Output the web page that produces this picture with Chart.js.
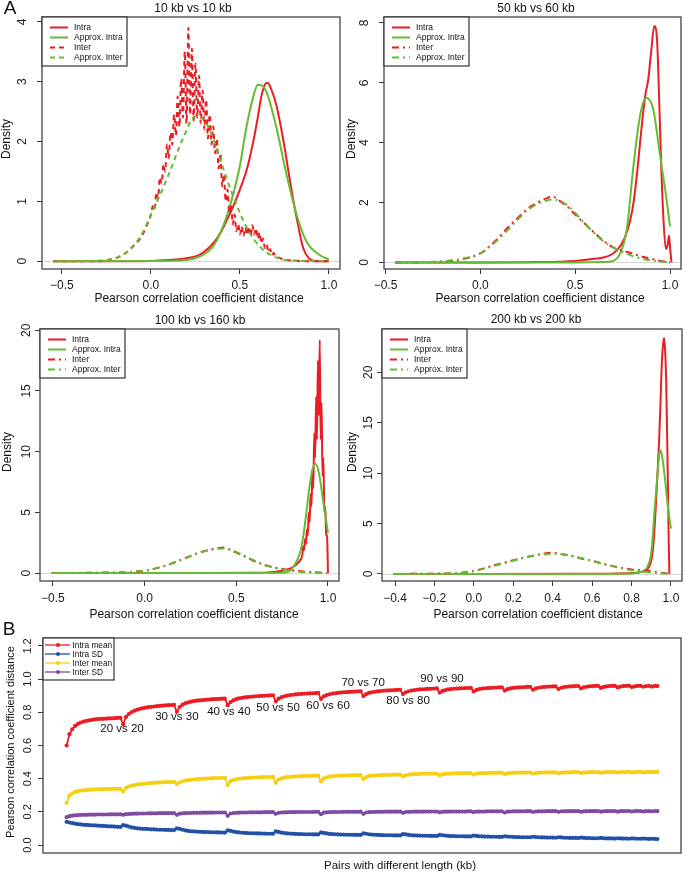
<!DOCTYPE html>
<html>
<head>
<meta charset="utf-8">
<script src="https://cdn.jsdelivr.net/npm/chart.js@4.4.1/dist/chart.umd.min.js"></script>
<style>
  html, body { margin: 0; padding: 0; background: #fff; }
  #page { position: relative; width: 685px; height: 873px; overflow: hidden; background: #fff; }
  #page canvas { position: absolute; }
</style>
</head>
<body>
<div id="page">
  <canvas id="p10" width="342" height="305" style="left:0px;top:0px"></canvas>
  <canvas id="p50" width="342" height="305" style="left:343px;top:0px"></canvas>
  <canvas id="p100" width="342" height="318" style="left:0px;top:305px"></canvas>
  <canvas id="p200" width="342" height="318" style="left:343px;top:305px"></canvas>
  <canvas id="pB" width="685" height="255" style="left:0px;top:618px"></canvas>
</div>
<script>
// ---- Panel A: 10 kb vs 10 kb ----
const a10_intraX = [-0.55,-0.3,0,0.1,0.2,0.275,0.35,0.39,0.425,0.46,0.5,0.54,0.575,0.6,0.62,0.64,0.655,0.675,0.705,0.745,0.78,0.82,0.855,0.89,0.93,1.0];
const a10_intraY = [0,0,0.005,0.02,0.05,0.11,0.3,0.47,0.68,0.9,1.2,1.55,2.0,2.4,2.75,2.95,2.98,2.88,2.6,2.0,1.36,0.7,0.22,0.04,0,0];
const a10_approxIntraX = [-0.55,0,0.2,0.275,0.35,0.42,0.46,0.5,0.537,0.575,0.6,0.625,0.65,0.705,0.76,0.82,0.875,0.95,1.0];
const a10_approxIntraY = [0,0.003,0.02,0.08,0.25,0.7,1.1,1.6,2.25,2.75,2.95,2.93,2.82,2.23,1.47,0.76,0.32,0.1,0.03];
const a10_interX = [-0.55,-0.3,-0.25,-0.2,-0.15,-0.1,-0.06,-0.03,
  0,0.01,0.02,0.03,0.04,0.05,0.06,0.07,0.08,0.09,0.1,0.11,0.12,0.13,0.14,0.15,0.16,0.17,0.18,0.19,
  0.2,0.21,0.22,0.23,0.24,0.25,0.26,0.27,0.28,0.29,0.3,0.31,0.32,0.33,0.34,0.35,0.36,0.37,0.38,0.39,
  0.4,0.41,0.42,0.43,0.44,0.45,0.46,0.47,0.48,0.49,0.5,0.51,0.52,0.53,0.54,0.55,0.56,0.57,0.58,0.59,
  0.6,0.61,0.62,0.63,0.64,0.65,0.66,0.67,0.68,0.69,0.7,0.72,0.74,0.76,0.8,0.85,1.0];
const a10_interY = [0,0,0.02,0.05,0.12,0.25,0.38,0.55,
  0.78,0.92,0.86,1.15,1.05,1.4,1.3,1.62,1.5,1.95,1.72,2.15,1.95,2.45,2.1,2.75,2.25,3.05,2.4,3.5,
  2.3,3.9,2.45,3.55,2.35,3.3,2.4,3.1,2.3,2.85,2.2,2.7,2.05,2.45,1.95,2.25,1.8,2.05,1.55,1.8,
  1.25,1.45,1.0,1.2,0.8,0.95,0.62,0.78,0.5,0.62,0.45,0.58,0.42,0.56,0.44,0.58,0.42,0.6,0.45,0.55,
  0.38,0.48,0.3,0.38,0.22,0.28,0.15,0.2,0.1,0.14,0.07,0.06,0.03,0.02,0.01,0,0];
const a10_approxInterX = [-0.55,-0.3,-0.19,-0.1,-0.05,0,0.05,0.1,0.18,0.25,0.3,0.35,0.4,0.46,0.54,0.61,0.69,0.8,1.0];
const a10_approxInterY = [0,0.01,0.06,0.25,0.46,0.78,1.1,1.45,2.05,2.42,2.35,2.05,1.6,1.1,0.55,0.25,0.08,0.01,0];

// ---- Panel A: 50 kb vs 60 kb ----
const a50_intraX = [-0.45,0,0.3,0.5,0.6,0.67,0.72,0.76,0.79,0.81,0.83,0.85,0.87,0.885,0.9,0.917,0.932,0.945,0.955,0.965,0.978,0.988,0.995,1.0,1.008];
const a50_intraY = [0,0,0.01,0.05,0.12,0.2,0.4,0.8,1.4,2.1,3.2,4.5,5.6,6.1,7.0,7.9,7.4,5.0,3.0,1.5,0.45,0.6,0.9,0.5,0];
const a50_approxIntraX = [-0.45,0,0.5,0.65,0.7,0.737,0.772,0.807,0.842,0.874,0.912,0.947,0.982,1.0];
const a50_approxIntraY = [0,0,0,0.01,0.05,0.3,1.1,3.2,4.9,5.5,5.1,3.6,2.1,1.2];
const a50_interX = [-0.45,-0.3,-0.2,-0.1,0,0.05,0.1,0.15,0.2,0.25,0.3,0.35,0.38,0.42,0.46,0.5,0.55,0.6,0.65,0.7,0.75,0.8,0.85,0.9,0.95,1.0];
const a50_interY = [0,0.01,0.03,0.1,0.3,0.55,0.85,1.2,1.5,1.8,2.0,2.15,2.2,2.05,1.85,1.6,1.3,1.0,0.72,0.5,0.4,0.3,0.2,0.12,0.05,0];
const a50_approxInterY = [0,0.01,0.04,0.12,0.3,0.52,0.8,1.12,1.45,1.75,1.95,2.07,2.1,2.06,1.9,1.65,1.3,0.98,0.7,0.5,0.35,0.22,0.13,0.07,0.03,0.01];

// ---- Panel A: 100 kb vs 160 kb ----
const a100_intraX = [-0.51,0.3,0.6,0.7,0.78,0.82,0.845,
  0.86,0.865,0.87,0.875,0.88,0.885,0.89,0.895,0.9,0.905,0.91,0.915,0.92,0.925,0.93,0.935,0.94,0.945,
  0.95,0.955,0.96,0.965,0.97,0.975,0.98,0.985,0.99,0.995,1.0];
const a100_intraY = [0,0,0.02,0.1,0.3,0.6,1.0,
  1.5,2.2,1.9,2.8,2.4,3.6,3.1,5.0,4.2,6.5,5.5,8.5,7.0,11.5,9.5,14.5,11.0,17.5,
  13.0,19.2,11.0,14.0,8.0,9.5,5.0,5.5,3.2,3.0,0];
const a100_approxIntraX = [-0.51,0,0.6,0.75,0.79,0.811,0.83,0.848,0.866,0.884,0.9,0.915,0.93,0.945,0.957,0.97,0.985,1.0];
const a100_approxIntraY = [0,0,0,0.02,0.15,0.5,1.0,1.7,3.1,5.2,7.2,8.5,9.0,8.6,7.7,6.3,4.8,3.3];
const a100_interX = [-0.51,-0.3,-0.15,-0.05,0,0.05,0.1,0.15,0.2,0.25,0.3,0.35,0.4,0.43,0.47,0.52,0.57,0.62,0.67,0.72,0.77,0.82,0.87,0.92,0.97,1.0];
const a100_interY = [0,0.03,0.06,0.12,0.2,0.35,0.55,0.8,1.1,1.4,1.7,1.9,2.05,2.1,1.9,1.55,1.2,0.85,0.6,0.42,0.3,0.2,0.12,0.07,0.03,0];
const a100_approxInterY = [0,0.02,0.05,0.12,0.2,0.35,0.55,0.82,1.1,1.4,1.68,1.88,2.0,2.02,1.92,1.6,1.22,0.88,0.6,0.4,0.25,0.15,0.08,0.04,0.01,0];

// ---- Panel A: 200 kb vs 200 kb ----
const a200_intraX = [-0.41,0,0.5,0.8,0.86,0.88,0.895,0.906,0.915,0.923,0.932,0.94,0.947,0.953,0.96,0.965,0.97,0.976,0.98,0.984,0.988,0.992];
const a200_intraY = [0,0,0.01,0.1,0.25,0.45,1.0,2.0,4.0,6.7,10.0,13.3,17.0,20.6,22.8,23.4,22.3,18.9,14.5,9.5,4.0,0];
const a200_approxIntraX = [-0.41,0,0.6,0.8,0.85,0.872,0.885,0.897,0.906,0.914,0.922,0.93,0.937,0.944,0.952,0.96,0.968,0.975,0.982,0.99,1.0];
const a200_approxIntraY = [0,0,0,0.05,0.2,0.45,0.9,1.7,3.3,5.6,7.6,9.5,11.2,12.3,12.0,11.0,9.7,8.5,7.1,5.8,4.5];
const a200_interX = [-0.41,-0.2,-0.1,-0.05,0,0.05,0.1,0.15,0.2,0.25,0.3,0.35,0.4,0.45,0.5,0.55,0.6,0.65,0.7,0.75,0.8,0.85,0.9,0.95,1.0];
const a200_interY = [0,0.03,0.08,0.15,0.3,0.55,0.85,1.1,1.35,1.6,1.8,2.0,2.1,1.95,1.75,1.5,1.3,1.05,0.8,0.6,0.45,0.35,0.25,0.12,0];
const a200_approxInterY = [0,0.03,0.08,0.15,0.28,0.5,0.78,1.05,1.32,1.58,1.8,1.95,2.0,1.95,1.78,1.55,1.3,1.03,0.78,0.55,0.38,0.25,0.15,0.07,0.03];

// ---- Panel B: one segment per first length (10, 20, ... 200) ----
const pairLengths = [10,20,30,40,50,60,70,80,90,100,110,120,130,140,150,160,170,180,190,200];
const intraMeanSegs = [
  [0.600,0.668,0.698,0.718,0.730,0.738,0.744,0.748,0.752,0.755,0.757,0.759,0.760,0.761,0.762,0.763,0.764,0.765,0.766,0.766],
  [0.728,0.772,0.790,0.802,0.810,0.816,0.821,0.825,0.828,0.831,0.833,0.835,0.837,0.839,0.840,0.842,0.843,0.844,0.845],
  [0.803,0.832,0.846,0.854,0.860,0.864,0.867,0.870,0.872,0.874,0.875,0.877,0.878,0.879,0.880,0.881,0.882,0.883],
  [0.843,0.862,0.872,0.879,0.884,0.887,0.890,0.892,0.894,0.895,0.897,0.898,0.899,0.900,0.901,0.902,0.903],
  [0.866,0.882,0.891,0.897,0.901,0.904,0.906,0.908,0.910,0.911,0.912,0.913,0.914,0.915,0.916,0.917],
  [0.881,0.896,0.904,0.909,0.913,0.915,0.917,0.919,0.921,0.922,0.923,0.924,0.925,0.926,0.927],
  [0.898,0.910,0.917,0.921,0.924,0.926,0.928,0.930,0.931,0.932,0.933,0.934,0.935,0.936],
  [0.910,0.921,0.927,0.931,0.934,0.936,0.938,0.939,0.940,0.941,0.942,0.943,0.944],
  [0.919,0.929,0.934,0.938,0.940,0.942,0.943,0.944,0.945,0.946,0.946,0.947],
  [0.926,0.935,0.940,0.943,0.945,0.946,0.947,0.948,0.949,0.950,0.950],
  [0.931,0.940,0.944,0.947,0.949,0.950,0.951,0.952,0.953,0.953],
  [0.936,0.944,0.948,0.951,0.953,0.954,0.955,0.956,0.956],
  [0.940,0.948,0.952,0.954,0.956,0.957,0.958,0.958],
  [0.944,0.951,0.954,0.956,0.958,0.959,0.959],
  [0.947,0.953,0.956,0.958,0.959,0.960],
  [0.950,0.955,0.958,0.959,0.960],
  [0.952,0.957,0.959,0.960],
  [0.954,0.958,0.960],
  [0.955,0.959],
  [0.958]
];
const intraSdSegs = [
  [0.140,0.136,0.132,0.129,0.126,0.124,0.122,0.121,0.120,0.119,0.118,0.117,0.116,0.115,0.114,0.113,0.112,0.111,0.110,0.109],
  [0.120,0.117,0.111,0.106,0.103,0.101,0.099,0.098,0.097,0.096,0.095,0.094,0.093,0.092,0.092,0.091,0.091,0.090,0.090],
  [0.100,0.097,0.092,0.088,0.085,0.083,0.082,0.081,0.080,0.079,0.078,0.078,0.077,0.077,0.076,0.076,0.075,0.075],
  [0.088,0.085,0.081,0.078,0.076,0.074,0.073,0.072,0.071,0.071,0.070,0.070,0.069,0.069,0.068,0.068,0.068],
  [0.082,0.079,0.075,0.072,0.070,0.069,0.068,0.067,0.066,0.066,0.065,0.065,0.065,0.064,0.064,0.064],
  [0.076,0.073,0.070,0.067,0.066,0.065,0.064,0.063,0.063,0.062,0.062,0.062,0.061,0.061,0.061],
  [0.070,0.068,0.065,0.063,0.062,0.061,0.060,0.060,0.059,0.059,0.059,0.058,0.058,0.058],
  [0.066,0.064,0.061,0.059,0.058,0.057,0.057,0.056,0.056,0.056,0.055,0.055,0.055],
  [0.061,0.059,0.057,0.055,0.054,0.054,0.053,0.053,0.053,0.052,0.052,0.052],
  [0.057,0.055,0.053,0.052,0.051,0.051,0.050,0.050,0.050,0.049,0.049],
  [0.053,0.051,0.050,0.049,0.048,0.048,0.047,0.047,0.047,0.047],
  [0.050,0.048,0.047,0.046,0.046,0.045,0.045,0.045,0.044],
  [0.047,0.046,0.044,0.044,0.043,0.043,0.043,0.042],
  [0.045,0.043,0.042,0.042,0.041,0.041,0.041],
  [0.043,0.041,0.040,0.040,0.040,0.039],
  [0.041,0.040,0.039,0.039,0.038],
  [0.040,0.039,0.038,0.038],
  [0.039,0.038,0.037],
  [0.038,0.037],
  [0.036]
];
const interMeanSegs = [
  [0.255,0.298,0.312,0.320,0.325,0.328,0.330,0.332,0.333,0.334,0.335,0.336,0.336,0.337,0.337,0.338,0.338,0.338,0.339,0.339],
  [0.322,0.345,0.353,0.358,0.362,0.365,0.367,0.369,0.371,0.372,0.374,0.375,0.376,0.377,0.378,0.379,0.380,0.380,0.381],
  [0.368,0.378,0.384,0.388,0.391,0.393,0.395,0.397,0.398,0.399,0.400,0.401,0.402,0.403,0.404,0.404,0.405,0.405],
  [0.362,0.385,0.392,0.396,0.399,0.401,0.403,0.404,0.405,0.406,0.407,0.408,0.409,0.409,0.410,0.410,0.411],
  [0.375,0.395,0.402,0.406,0.409,0.411,0.412,0.413,0.414,0.415,0.415,0.416,0.416,0.417,0.417,0.418],
  [0.383,0.402,0.408,0.412,0.414,0.416,0.417,0.418,0.419,0.419,0.420,0.420,0.421,0.421,0.422],
  [0.398,0.410,0.415,0.418,0.419,0.420,0.421,0.422,0.422,0.423,0.423,0.424,0.424,0.424],
  [0.413,0.420,0.424,0.426,0.427,0.428,0.429,0.429,0.430,0.430,0.430,0.431,0.431],
  [0.420,0.426,0.429,0.430,0.431,0.432,0.432,0.433,0.433,0.433,0.434,0.434],
  [0.425,0.430,0.432,0.433,0.434,0.434,0.435,0.435,0.435,0.436,0.436],
  [0.428,0.432,0.434,0.435,0.436,0.436,0.437,0.437,0.437,0.437],
  [0.431,0.434,0.436,0.437,0.437,0.438,0.438,0.438,0.438],
  [0.432,0.436,0.437,0.438,0.438,0.439,0.439,0.439],
  [0.434,0.437,0.438,0.439,0.439,0.440,0.440],
  [0.435,0.438,0.439,0.440,0.440,0.440],
  [0.436,0.439,0.440,0.440,0.441],
  [0.437,0.440,0.441,0.441],
  [0.438,0.440,0.441],
  [0.439,0.441],
  [0.441]
];
const interSdSegs = [
  [0.168,0.174,0.177,0.179,0.180,0.181,0.182,0.182,0.183,0.183,0.183,0.184,0.184,0.184,0.184,0.185,0.185,0.185,0.185,0.185],
  [0.182,0.186,0.187,0.188,0.189,0.189,0.190,0.190,0.190,0.191,0.191,0.191,0.191,0.192,0.192,0.192,0.192,0.192,0.192],
  [0.182,0.189,0.191,0.192,0.193,0.193,0.194,0.194,0.194,0.195,0.195,0.195,0.195,0.195,0.196,0.196,0.196,0.196],
  [0.176,0.190,0.193,0.194,0.195,0.196,0.196,0.196,0.197,0.197,0.197,0.197,0.197,0.198,0.198,0.198,0.198],
  [0.188,0.194,0.196,0.197,0.197,0.198,0.198,0.198,0.199,0.199,0.199,0.199,0.199,0.199,0.200,0.200],
  [0.186,0.195,0.197,0.198,0.198,0.199,0.199,0.199,0.200,0.200,0.200,0.200,0.200,0.200,0.201],
  [0.188,0.196,0.198,0.199,0.199,0.200,0.200,0.200,0.201,0.201,0.201,0.201,0.201,0.201],
  [0.194,0.199,0.200,0.200,0.201,0.201,0.201,0.201,0.202,0.202,0.202,0.202,0.202],
  [0.197,0.200,0.201,0.201,0.202,0.202,0.202,0.202,0.202,0.202,0.203,0.203],
  [0.198,0.201,0.202,0.202,0.202,0.203,0.203,0.203,0.203,0.203,0.203],
  [0.196,0.201,0.202,0.203,0.203,0.203,0.203,0.203,0.204,0.204],
  [0.199,0.202,0.203,0.203,0.203,0.204,0.204,0.204,0.204],
  [0.200,0.203,0.203,0.204,0.204,0.204,0.204,0.204],
  [0.200,0.203,0.204,0.204,0.204,0.204,0.205],
  [0.201,0.203,0.204,0.204,0.205,0.205],
  [0.201,0.204,0.204,0.205,0.205],
  [0.202,0.204,0.205,0.205],
  [0.202,0.204,0.205],
  [0.203,0.205],
  [0.204]
];
// labels on the intra mean curve: text, pair index, value
const segLabelText = ['20 vs 20','30 vs 30','40 vs 40','50 vs 50','60 vs 60','70 vs 70','80 vs 80','90 vs 90'];
const segLabelAt = [20.6, 40, 58.4, 75.8, 93.5, 105.9, 121.8, 133.8];
const segLabelY = [0.70, 0.772, 0.802, 0.83, 0.84, 0.976, 0.868, 1.0];

const yTicksB = [0, 0.2, 0.4, 0.6, 0.8, 1.0, 1.2];

const FONT = "'Liberation Sans', Arial, Helvetica, sans-serif";
Chart.defaults.font.family = FONT;
Chart.defaults.color = '#1a1a1a';

const RED = '#ea1d25';
const GREEN = '#66bb33';

function xy(xs, ys) {
  return xs.map((x, i) => ({ x: x, y: ys[i] }));
}
function fmt1(v) {
  return (v < 0 ? '\u2212' : '') + Math.abs(v).toFixed(1);
}

// box, zero line, R style legend and free text
const rPlot = {
  id: 'rPlot',
  beforeDatasetsDraw(chart, args, opts) {
    if (!opts.zeroLine) return;
    const { ctx, chartArea: a, scales } = chart;
    const y = Math.round(scales.y.getPixelForValue(0)) + 0.5;
    ctx.save();
    ctx.strokeStyle = '#d6d6d6';
    ctx.lineWidth = 1;
    ctx.beginPath();
    ctx.moveTo(a.left, y);
    ctx.lineTo(a.right, y);
    ctx.stroke();
    ctx.restore();
  },
  afterDatasetsDraw(chart, args, opts) {
    const { ctx, chartArea: a, scales } = chart;
    ctx.save();
    // annotations in data coordinates
    (opts.notes || []).forEach(n => {
      ctx.font = n.font;
      ctx.fillStyle = '#111';
      ctx.textAlign = 'center';
      ctx.textBaseline = 'middle';
      ctx.fillText(n.text, scales.x.getPixelForValue(n.x), scales.y.getPixelForValue(n.y));
    });
    ctx.strokeStyle = '#444';
    ctx.lineWidth = 1.3;
    ctx.strokeRect(a.left, a.top, a.right - a.left, a.bottom - a.top);
    const lg = opts.legend;
    if (lg) {
      const x0 = a.left, y0 = a.top;
      ctx.fillStyle = '#fff';
      ctx.fillRect(x0, y0, lg.w, lg.h);
      ctx.strokeStyle = '#333';
      ctx.lineWidth = 1.2;
      ctx.strokeRect(x0, y0, lg.w, lg.h);
      ctx.font = lg.font;
      ctx.textAlign = 'left';
      ctx.textBaseline = 'middle';
      chart.data.datasets.forEach((ds, i) => {
        const y = y0 + lg.row0 + i * lg.gap;
        ctx.strokeStyle = ds.borderColor;
        ctx.lineWidth = lg.lineWidth;
        ctx.setLineDash(ds.borderDash || []);
        ctx.beginPath();
        ctx.moveTo(x0 + lg.line0, y);
        ctx.lineTo(x0 + lg.line1, y);
        ctx.stroke();
        ctx.setLineDash([]);
        if (lg.dot) {
          ctx.fillStyle = ds.borderColor;
          ctx.beginPath();
          ctx.arc(x0 + lg.dot, y, 2, 0, Math.PI * 2);
          ctx.fill();
        }
        ctx.fillStyle = '#111';
        ctx.fillText(ds.label, x0 + lg.text0, y + 0.5);
      });
    }
    ctx.restore();
  },
  afterDraw(chart, args, opts) {
    const ctx = chart.ctx;
    (opts.texts || []).forEach(t => {
      ctx.save();
      ctx.font = t.font;
      ctx.fillStyle = '#111';
      ctx.textAlign = 'center';
      ctx.textBaseline = 'middle';
      ctx.translate(t.x - opts.ox, t.y - opts.oy);
      if (t.rot) ctx.rotate(t.rot);
      ctx.fillText(t.text, 0, 0);
      ctx.restore();
    });
  }
};

function yAxis(cfg, ticks, fmt, size) {
  return {
    type: 'linear',
    min: cfg.yMin,
    max: cfg.yMax,
    afterBuildTicks: s => { s.ticks = ticks.map(v => ({ value: v })); },
    afterFit: s => { s.width = cfg.area.l; s.paddingTop = 0; s.paddingBottom = 0; },
    grid: { drawOnChartArea: false, tickLength: 5, color: '#3a3a3a', lineWidth: 1 },
    border: { display: false },
    ticks: {
      font: { size: size },
      padding: cfg.yPad,
      minRotation: 90,
      maxRotation: 90,
      crossAlign: 'center',
      autoSkip: false,
      callback: fmt
    }
  };
}

function densityPanel(cfg) {
  const ox = cfg.ox, oy = cfg.oy;
  const lineOpts = { borderWidth: 2, pointRadius: 0, cubicInterpolationMode: 'monotone' };
  return new Chart(document.getElementById(cfg.id), {
    type: 'line',
    data: {
      datasets: [
        Object.assign({ label: 'Intra', data: xy(cfg.intraX, cfg.intraY), borderColor: RED, order: 4 }, lineOpts),
        Object.assign({ label: 'Approx. Intra', data: xy(cfg.approxIntraX, cfg.approxIntraY), borderColor: GREEN, order: 3 }, lineOpts),
        Object.assign({ label: 'Inter', data: xy(cfg.interX, cfg.interY), borderColor: RED, borderDash: cfg.dash, order: 2 }, lineOpts),
        Object.assign({ label: 'Approx. Inter', data: xy(cfg.approxInterX, cfg.approxInterY), borderColor: GREEN, borderDash: cfg.dash, order: 1 }, lineOpts)
      ]
    },
    options: {
      responsive: false,
      animation: false,
      events: [],
      layout: { autoPadding: false, padding: { left: 0, top: cfg.area.t, right: cfg.w - cfg.area.r, bottom: 0 } },
      scales: {
        x: {
          type: 'linear',
          min: cfg.xMin,
          max: cfg.xMax,
          afterBuildTicks: s => { s.ticks = cfg.xTicks.map(v => ({ value: v })); },
          afterFit: s => { s.height = cfg.h - cfg.area.b; s.paddingLeft = 0; s.paddingRight = 0; },
          grid: { drawOnChartArea: false, tickLength: 5, color: '#3a3a3a', lineWidth: 1 },
          border: { display: false },
          ticks: { font: { size: 12 }, padding: cfg.xPad, maxRotation: 0, autoSkip: false, callback: v => fmt1(v) }
        },
        y: yAxis(cfg, cfg.yTicks, v => String(v), 12)
      },
      plugins: {
        legend: { display: false },
        tooltip: { enabled: false },
        rPlot: {
          zeroLine: true,
          legend: { w: 85, h: 49, row0: 10.5, gap: 10, line0: 8, line1: 26, text0: 32, lineWidth: 2, font: '8.5px ' + FONT },
          ox: ox, oy: oy,
          texts: cfg.texts
        }
      }
    },
    plugins: [rPlot]
  });
}

const T12 = '12px ' + FONT;
const DASH1 = [5, 4];
const DASH2 = [7, 4, 2, 4];

densityPanel({
  id: 'p10', ox: 0, oy: 0, w: 342, h: 305, area: { l: 42, t: 17, r: 340, b: 269 },
  xMin: -0.612, xMax: 1.062, yMin: -0.13, yMax: 4.08,
  xTicks: [-0.5, 0, 0.5, 1], yTicks: [0, 1, 2, 3, 4], xPad: 4, yPad: 11, dash: DASH1,
  intraX: a10_intraX, intraY: a10_intraY, approxIntraX: a10_approxIntraX, approxIntraY: a10_approxIntraY,
  interX: a10_interX, interY: a10_interY, approxInterX: a10_approxInterX, approxInterY: a10_approxInterY,
  texts: [
    { text: 'A', x: 10, y: 9, font: '19px ' + FONT },
    { text: '10 kb vs 10 kb', x: 193, y: 9, font: T12 },
    { text: 'Pearson correlation coefficient distance', x: 199, y: 299, font: T12 },
    { text: 'Density', x: 7, y: 139, rot: -Math.PI / 2, font: T12 }
  ]
});

densityPanel({
  id: 'p50', ox: 343, oy: 0, w: 342, h: 305, area: { l: 41, t: 17, r: 338, b: 269 },
  xMin: -0.508, xMax: 1.058, yMin: -0.22, yMax: 8.2,
  xTicks: [-0.5, 0, 0.5, 1], yTicks: [0, 2, 4, 6, 8], xPad: 4, yPad: 11, dash: DASH2,
  intraX: a50_intraX, intraY: a50_intraY, approxIntraX: a50_approxIntraX, approxIntraY: a50_approxIntraY,
  interX: a50_interX, interY: a50_interY, approxInterX: a50_interX, approxInterY: a50_approxInterY,
  texts: [
    { text: '50 kb vs 60 kb', x: 536, y: 9, font: T12 },
    { text: 'Pearson correlation coefficient distance', x: 540, y: 299, font: T12 },
    { text: 'Density', x: 352, y: 139, rot: -Math.PI / 2, font: T12 }
  ]
});

densityPanel({
  id: 'p100', ox: 0, oy: 305, w: 342, h: 318, area: { l: 40, t: 24, r: 339, b: 276 },
  xMin: -0.57, xMax: 1.06, yMin: -0.65, yMax: 20.1,
  xTicks: [-0.5, 0, 0.5, 1], yTicks: [0, 5, 10, 15, 20], xPad: 5, yPad: 2, dash: DASH2,
  intraX: a100_intraX, intraY: a100_intraY, approxIntraX: a100_approxIntraX, approxIntraY: a100_approxIntraY,
  interX: a100_interX, interY: a100_interY, approxInterX: a100_interX, approxInterY: a100_approxInterY,
  texts: [
    { text: '100 kb vs 160 kb', x: 200, y: 321, font: T12 },
    { text: 'Pearson correlation coefficient distance', x: 194, y: 615, font: T12 },
    { text: 'Density', x: 8, y: 452, rot: -Math.PI / 2, font: T12 }
  ]
});

densityPanel({
  id: 'p200', ox: 343, oy: 305, w: 342, h: 318, area: { l: 39, t: 24, r: 339, b: 276 },
  xMin: -0.466, xMax: 1.056, yMin: -0.7, yMax: 24.3,
  xTicks: [-0.4, -0.2, 0, 0.2, 0.4, 0.6, 0.8, 1], yTicks: [0, 5, 10, 15, 20], xPad: 5, yPad: 2, dash: DASH2,
  intraX: a200_intraX, intraY: a200_intraY, approxIntraX: a200_approxIntraX, approxIntraY: a200_approxIntraY,
  interX: a200_interX, interY: a200_interY, approxInterX: a200_interX, approxInterY: a200_approxInterY,
  texts: [
    { text: '200 kb vs 200 kb', x: 536, y: 320, font: T12 },
    { text: 'Pearson correlation coefficient distance', x: 538, y: 615, font: T12 },
    { text: 'Density', x: 353, y: 452, rot: -Math.PI / 2, font: T12 }
  ]
});

// ---- Panel B ----
const intraMean = intraMeanSegs.flat();
const intraSd = intraSdSegs.flat();
const interMean = interMeanSegs.flat();
const interSd = interSdSegs.flat();
const toPoints = arr => arr.map((v, i) => ({ x: i + 1, y: v }));

function seriesB(label, arr, color) {
  return {
    label: label,
    data: toPoints(arr),
    borderColor: color,
    backgroundColor: color,
    borderWidth: 1.8,
    pointRadius: 2.1,
    pointBorderWidth: 0,
    pointBackgroundColor: color,
    tension: 0
  };
}

const cfgB = { area: { l: 43, t: 20, r: 681, b: 235 }, yMin: -0.048, yMax: 1.248, yPad: 2 };

new Chart(document.getElementById('pB'), {
  type: 'line',
  data: {
    datasets: [
      seriesB('Intra mean', intraMean, '#ec1c24'),
      seriesB('Intra SD', intraSd, '#2150a6'),
      seriesB('Inter mean', interMean, '#f6cf12'),
      seriesB('Inter SD', interSd, '#7d4b9f')
    ]
  },
  options: {
    responsive: false,
    animation: false,
    events: [],
    layout: { autoPadding: false, padding: { left: 0, top: 20, right: 685 - 681, bottom: 255 - 235 } },
    scales: {
      x: { type: 'linear', display: false, min: -7.36, max: 218.36 },
      y: yAxis(cfgB, yTicksB, v => v.toFixed(1), 11)
    },
    plugins: {
      legend: { display: false },
      tooltip: { enabled: false },
      rPlot: {
        legend: { w: 71, h: 42, row0: 7, gap: 9, line0: 2, line1: 27, dot: 15, text0: 29.5, lineWidth: 1.3, font: '8.3px ' + FONT },
        notes: segLabelText.map((t, i) => ({ text: t, x: segLabelAt[i], y: segLabelY[i], font: '11.5px ' + FONT })),
        ox: 0, oy: 618,
        texts: [
          { text: 'B', x: 9, y: 630, font: '19px ' + FONT },
          { text: 'Pearson correlation coefficient distance', x: 11, y: 742, rot: -Math.PI / 2, font: '11px ' + FONT },
          { text: 'Pairs with different length (kb)', x: 400, y: 866, font: '11.5px ' + FONT }
        ]
      }
    }
  },
  plugins: [rPlot]
});
</script>
</body>
</html>
